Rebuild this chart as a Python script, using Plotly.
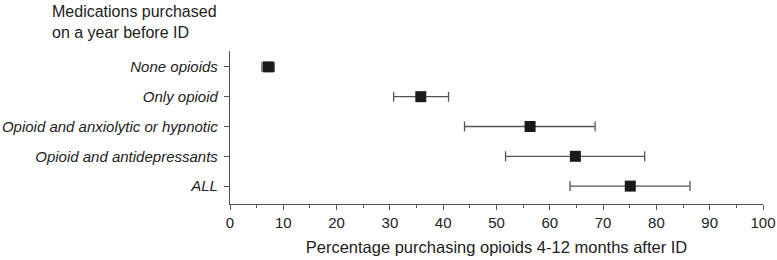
import plotly.graph_objects as go

categories = ["None opioids", "Only opioid", "Opioid and anxiolytic or hypnotic",
              "Opioid and antidepressants", "ALL"]
estimate = [7.2, 35.8, 56.3, 64.8, 75.1]
ci_low = [6.0, 30.7, 44.0, 51.7, 63.8]
ci_high = [8.3, 41.0, 68.5, 77.8, 86.3]
x_ticks = list(range(0, 101, 10))

ypos = list(range(len(categories)))
err_plus = [h - e for h, e in zip(ci_high, estimate)]
err_minus = [e - l for e, l in zip(estimate, ci_low)]

FONT = "Arial, Liberation Sans, sans-serif"
AXC = "#555555"
TXT = "#222222"

L, R, T, B = 230, 14, 51, 56
W, H = 777, 260
pw, ph = W - L - R, H - T - B

fig = go.Figure()
fig.add_trace(go.Scatter(
    x=estimate, y=ypos, mode="markers",
    marker=dict(symbol="square", size=11, color="#1a1a1a"),
    error_x=dict(type="data", symmetric=False, array=err_plus, arrayminus=err_minus,
                 color="#555555", thickness=1.3, width=5),
    showlegend=False,
))

fig.update_layout(
    width=W, height=H,
    margin=dict(l=L, r=R, t=T, b=B, autoexpand=False),
    plot_bgcolor="white", paper_bgcolor="white",
    font=dict(family=FONT, color=TXT, size=14),
)
fig.add_annotation(
    text="Medications purchased<br>on a year before ID",
    xref="paper", yref="paper", x=(50 - L) / pw, y=(H - B - 1) / ph,
    xanchor="left", yanchor="top", align="left", showarrow=False,
    font=dict(size=16, family=FONT, color=TXT),
)
fig.update_xaxes(
    range=[0, 100], tickvals=x_ticks, ticktext=[str(v) for v in x_ticks],
    showgrid=False, zeroline=False, showline=True, linecolor=AXC, linewidth=1.3,
    ticks="outside", ticklen=5, tickcolor=AXC, tickwidth=1.3,
    minor=dict(dtick=5, tick0=0, ticks="outside", ticklen=3, tickcolor=AXC, tickwidth=1.3),
    tickfont=dict(size=15, family=FONT, color=TXT),
    automargin=False,
    title=dict(text="Percentage purchasing opioids 4-12 months after ID",
               font=dict(size=16.5, family=FONT, color=TXT), standoff=11),
)
fig.update_yaxes(
    range=[4.6, -0.533], tickvals=ypos,
    ticktext=["<i>%s</i>" % c for c in categories],
    showgrid=False, zeroline=False, showline=True, linecolor=AXC, linewidth=1.3,
    ticks="outside", ticklen=5, tickcolor=AXC, tickwidth=1.3,
    tickfont=dict(size=15, family=FONT, color=TXT),
    ticklabelstandoff=3,
    automargin=False,
)

fig.write_html("out.html")
